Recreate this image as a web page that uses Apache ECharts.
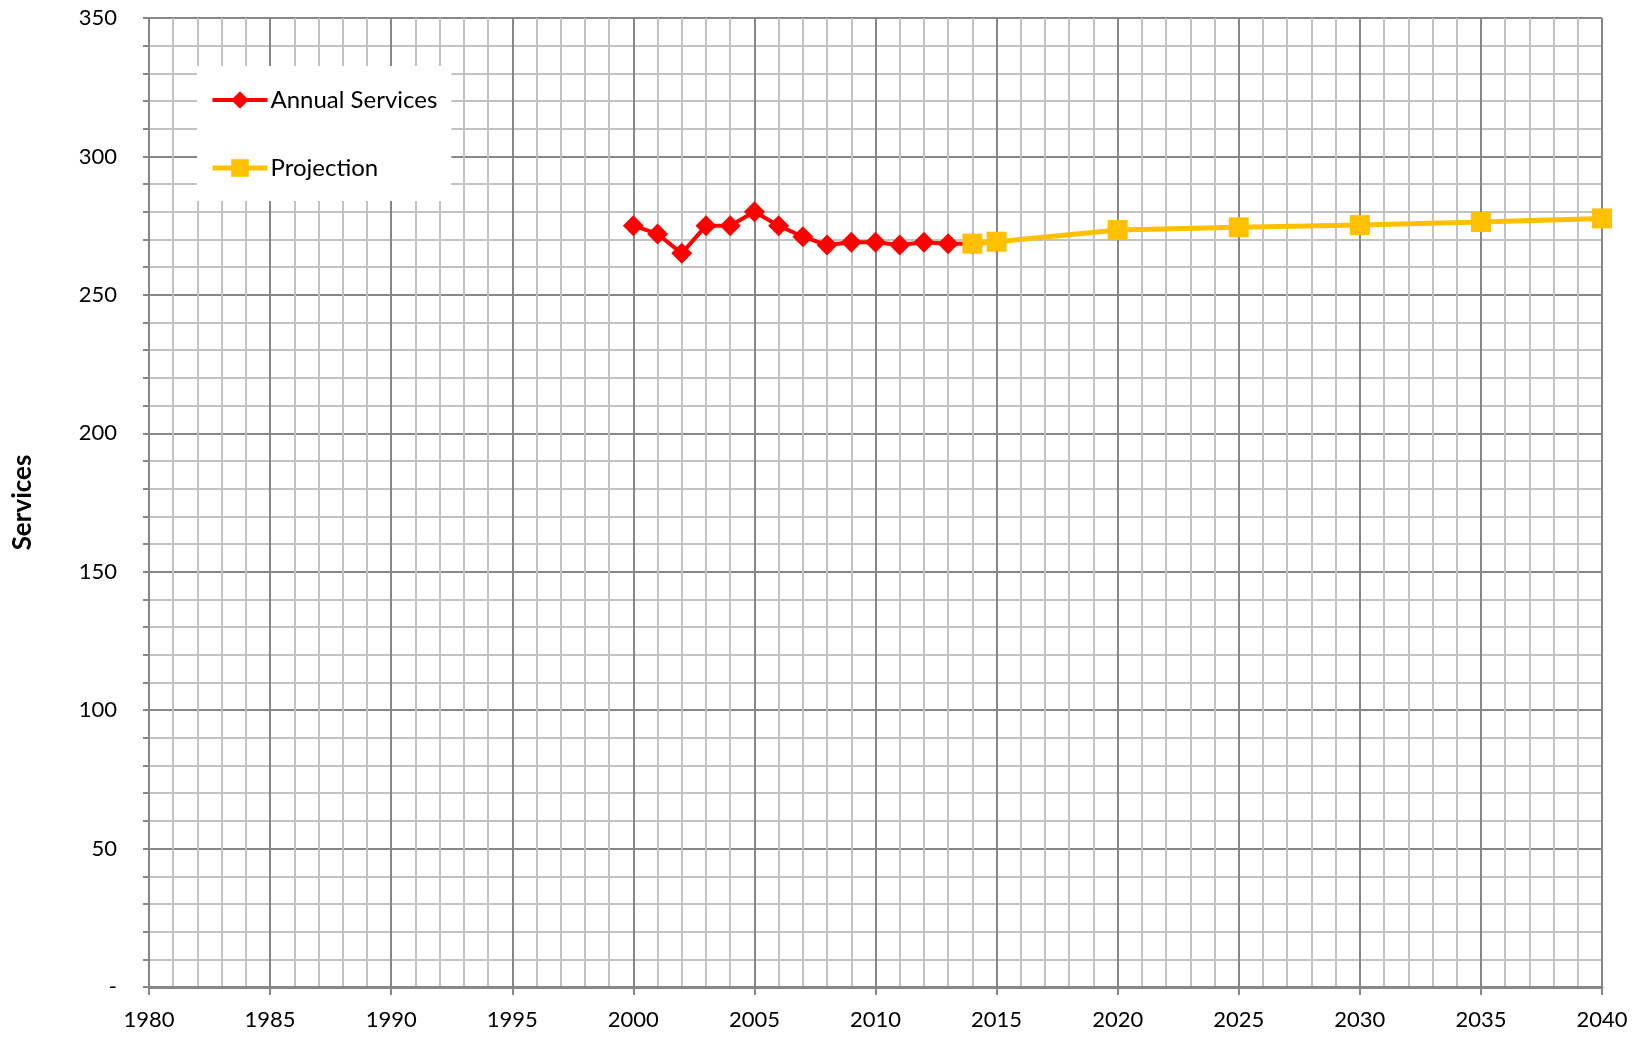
<!DOCTYPE html>
<html>
<head>
<meta charset="utf-8">
<script src="https://cdn.jsdelivr.net/npm/echarts@6/dist/echarts.min.js"></script>
<style>
html,body{margin:0;padding:0;background:#fff;}
#chart{width:1644px;height:1037px;}
</style>
</head>
<body>
<div id="chart"></div>
<script>
const annualYears = [2000,2001,2002,2003,2004,2005,2006,2007,2008,2009,2010,2011,2012,2013,2014,2015];
const annualValues = [275,272,265,275,275,280,275,271,268,269,269,268,269,268.5,268.5,269];
const projYears = [2014,2015,2020,2025,2030,2035,2040];
const projValues = [268.5,269.2,273.4,274.4,275.2,276.3,277.6];
const xMin = 1980, xMax = 2040, xStep = 5;
const yMin = 0, yMax = 350, yStep = 50;

const font = 'Lato, "Open Sans", sans-serif';
const chart = echarts.init(document.getElementById('chart'), null, {renderer:'canvas'});
chart.setOption({
  animation:false,
  backgroundColor:'#ffffff',
  grid:{left:149, right:42, top:18, bottom:50, containLabel:false},
  legend:{
    orient:'vertical', left:197, top:66,
    backgroundColor:'#ffffff',
    padding:[22,14,21,13],
    itemGap:44,
    itemWidth:55, itemHeight:22,
    textStyle:{fontFamily:font, fontSize:24, color:'#000', padding:[0,0,0,-2]},
    data:[
      {name:'Annual Services', lineStyle:{width:4, color:'#ff0000'}},
      {name:'Projection', lineStyle:{width:5, color:'#ffc000'}}
    ]
  },
  xAxis:{
    type:'value', min:xMin, max:xMax, interval:xStep,
    axisLine:{show:true, lineStyle:{color:'#878787', width:3}},
    axisTick:{show:true, length:8, lineStyle:{color:'#878787', width:2}},
    minorTick:{show:true, splitNumber:5, length:0},
    axisLabel:{fontFamily:font, fontSize:22, color:'#000', margin:22, formatter:v=>String(v)},
    splitLine:{show:true, lineStyle:{color:'#878787', width:2}},
    minorSplitLine:{show:true, lineStyle:{color:'#c2c2c2', width:2}}
  },
  yAxis:{
    type:'value', min:yMin, max:yMax, interval:yStep,
    name:'Services', nameLocation:'middle', nameGap:113, nameRotate:90,
    nameTextStyle:{fontFamily:font, fontSize:26, fontWeight:'bold', color:'#000'},
    axisLine:{show:true, lineStyle:{color:'#878787', width:2}},
    axisTick:{show:true, length:6, lineStyle:{color:'#878787', width:2}},
    minorTick:{show:true, splitNumber:5, length:6, lineStyle:{color:'#878787', width:2}},
    axisLabel:{fontFamily:font, fontSize:22, color:'#000', margin:32, formatter:v=> v===0 ? '-' : String(v)},
    splitLine:{show:true, lineStyle:{color:'#878787', width:2}},
    minorSplitLine:{show:true, lineStyle:{color:'#c2c2c2', width:2}}
  },
  series:[
    {
      name:'Annual Services', type:'line', z:3,
      data:annualYears.map((y,i)=>[y, annualValues[i]]),
      symbol:'diamond', symbolSize:[21,21],
      itemStyle:{color:'#ff0000'},
      lineStyle:{color:'#ff0000', width:4}
    },
    {
      name:'Projection', type:'line', z:4,
      data:projYears.map((y,i)=>[y, projValues[i]]),
      symbol:'rect', symbolSize:[20,20],
      itemStyle:{color:'#ffc000'},
      lineStyle:{color:'#ffc000', width:5}
    }
  ]
});
</script>
</body>
</html>
